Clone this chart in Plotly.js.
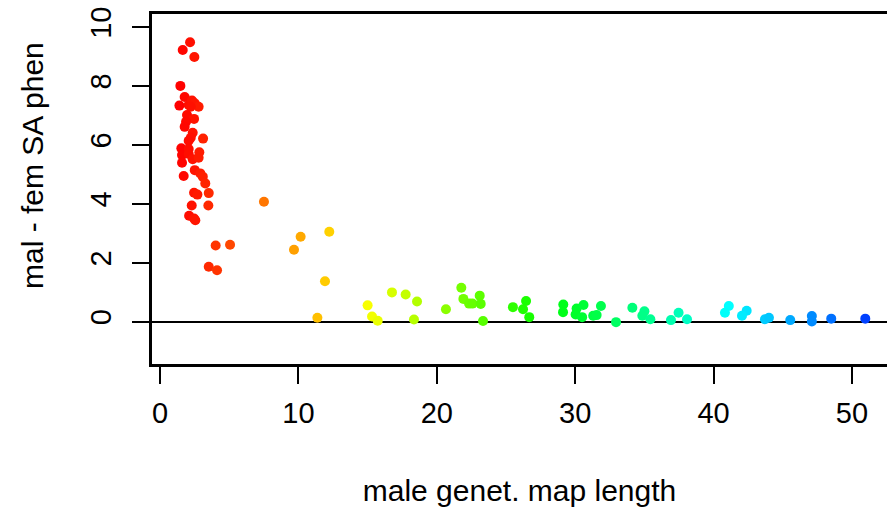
<!DOCTYPE html>
<html>
<head>
<meta charset="utf-8">
<script src="https://cdn.plot.ly/plotly-3.0.1.min.js"></script>
<style>html,body{margin:0;padding:0;background:#fff;}#chart{width:887px;height:509px;}</style>
</head>
<body>
<div id="chart"></div>
<script>
// male genetic map length
const mapLength = [
  2.17, 1.64, 2.48, 1.47,
  1.78, 1.40, 2.07, 2.31, 2.51, 2.79, 2.22,
  1.95, 2.46, 1.88, 1.78, 2.36, 2.22, 2.07, 3.11,
  1.54, 2.07, 2.84, 1.59, 2.07, 2.36, 2.79, 1.59,
  2.51, 1.71, 2.91, 3.09, 3.27,
  2.46, 2.70, 3.52, 2.29, 3.49, 2.10, 2.46, 2.55,
  4.02, 5.06, 3.52, 4.12,
  7.51, 10.16, 9.68, 12.23, 11.92, 11.37,
  15.00, 15.32, 15.73, 16.76, 17.75, 18.57, 18.35,
  20.66, 21.77, 21.92, 22.33, 22.57, 23.10, 23.17, 23.34,
  25.50, 26.45, 26.23, 26.68,
  29.14, 29.12, 30.10, 30.60, 30.03, 30.50, 31.30, 31.55, 31.86, 32.95,
  34.13, 35.00, 34.85, 35.43,
  36.92, 37.47, 38.08,
  41.10, 40.82, 42.39, 42.05, 43.71, 44.00, 45.54, 47.10, 47.10, 48.50, 50.96
];
// male - female SA phenotype
const saPhenDiff = [
  9.48, 9.22, 8.98, 8.00,
  7.62, 7.33, 7.35, 7.50, 7.41, 7.29, 7.29,
  7.01, 6.88, 6.78, 6.61, 6.41, 6.24, 6.14, 6.21,
  5.88, 5.86, 5.75, 5.65, 5.69, 5.51, 5.56, 5.39,
  5.14, 4.94, 5.03, 4.92, 4.69,
  4.37, 4.31, 4.36, 3.94, 3.94, 3.59, 3.50, 3.44,
  2.58, 2.61, 1.86, 1.74,
  4.07, 2.88, 2.44, 3.05, 1.37, 0.13,
  0.55, 0.17, 0.03, 0.99, 0.92, 0.68, 0.07,
  0.42, 1.15, 0.77, 0.61, 0.61, 0.88, 0.60, 0.02,
  0.49, 0.70, 0.42, 0.15,
  0.58, 0.32, 0.44, 0.56, 0.24, 0.15, 0.20, 0.22, 0.53, -0.02,
  0.47, 0.35, 0.20, 0.08,
  0.05, 0.30, 0.08,
  0.53, 0.30, 0.37, 0.20, 0.08, 0.13, 0.05, 0.19, 0.00, 0.10, 0.10
];
const xTicks = [0, 10, 20, 30, 40, 50];
const yTicks = [0, 2, 4, 6, 8, 10];
const xLabel = 'male genet. map length';
const yLabel = 'mal - fem SA phen';

const FONT = 'Liberation Sans, Arial, Helvetica, sans-serif';

const trace = {
  x: mapLength,
  y: saPhenDiff,
  type: 'scatter',
  mode: 'markers',
  marker: {
    size: 10,
    color: mapLength,
    cmin: 1.4,
    cmax: 54.3,
    colorscale: [[0, '#FF0000'], [0.25, '#FFFF00'], [0.5, '#00FF00'], [0.75, '#00FFFF'], [1, '#0000FF']],
    showscale: false,
    line: {width: 0}
  },
  hoverinfo: 'x+y'
};

const layout = {
  width: 887,
  height: 509,
  margin: {l: 152, r: 0, t: 14, b: 145, pad: 0},
  paper_bgcolor: '#ffffff',
  plot_bgcolor: '#ffffff',
  showlegend: false,
  font: {family: FONT, size: 29, color: '#000'},
  xaxis: {
    range: [-0.58, 52.53],
    tickmode: 'array',
    tickvals: xTicks,
    ticktext: xTicks.map(String),
    ticks: 'outside',
    ticklen: 17,
    tickwidth: 2,
    tickcolor: '#000',
    showline: true,
    linecolor: '#000',
    linewidth: 2.6,
    mirror: true,
    showgrid: false,
    zeroline: false,
    tickfont: {family: FONT, size: 29, color: '#000'},
    ticklabelstandoff: 5,
    title: {text: xLabel, font: {family: FONT, size: 30, color: '#000'}, standoff: 52},
    automargin: false
  },
  yaxis: {
    range: [-1.44, 10.44],
    tickmode: 'array',
    tickvals: yTicks,
    ticktext: yTicks.map(String),
    ticks: 'outside',
    ticklen: 17,
    tickwidth: 2,
    tickcolor: '#000',
    tickangle: -90,
    showline: true,
    linecolor: '#000',
    linewidth: 2.6,
    mirror: false,
    showgrid: false,
    zeroline: true,
    zerolinecolor: '#000',
    zerolinewidth: 2,
    tickfont: {family: FONT, size: 29, color: '#000'},
    ticklabelstandoff: 10,
    automargin: false
  },
  annotations: [{
    text: yLabel,
    xref: 'paper', yref: 'paper',
    x: 0, y: 0.5,
    xanchor: 'center', yanchor: 'middle',
    xshift: -120, yshift: 23,
    textangle: -90,
    showarrow: false,
    font: {family: FONT, size: 30, color: '#000'}
  }]
};

Plotly.newPlot('chart', [trace], layout, {displayModeBar: false, staticPlot: true});
</script>
</body>
</html>
